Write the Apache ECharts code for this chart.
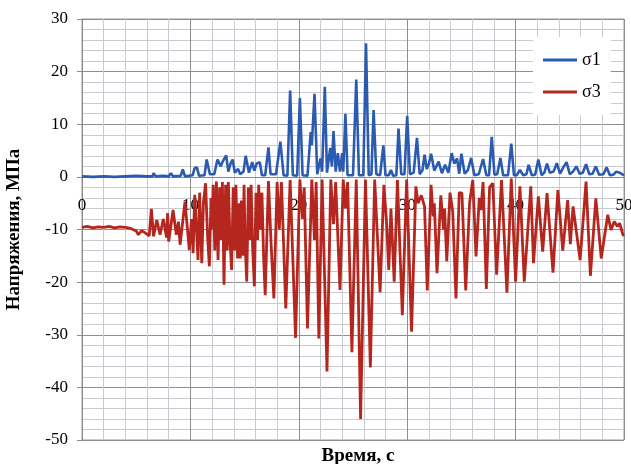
<!DOCTYPE html>
<html>
<head>
<meta charset="utf-8">
<script src="https://cdn.jsdelivr.net/npm/echarts@6/dist/echarts.min.js"></script>
<style>
  html, body { margin: 0; padding: 0; background: #fff; }
  #main { width: 631px; height: 464px; }
</style>
</head>
<body>
<div id="main"></div>
<script>
// время, с и значение, МПа
var sigma1 = [
  [0,0.1],[1,0.0],[2,0.1],[3,0.0],[4,0.1],[5,0.2],[6,0.1],[6.5,0.1],[6.6,0.7],[6.8,0.1],
  [7.5,0.2],[8.0,0.1],[8.2,0.7],[8.4,0.1],[9.1,0.2],[9.3,1.4],[9.5,0.1],[10.2,0.3],[10.4,1.7],
  [10.6,1.8],[10.8,0.2],[11.3,0.3],[11.5,3.3],[11.8,0.5],[12.2,0.5],[12.5,3.3],[12.8,2.0],
  [13.0,3.0],[13.3,4.1],[13.5,1.0],[13.7,2.5],[13.9,3.3],[14.1,0.8],[14.4,1.5],[14.6,0.5],
  [14.9,1.0],[15.1,4.0],[15.4,0.8],[15.7,2.8],[15.9,1.2],[16.1,2.5],[16.4,2.8],[16.6,0.3],
  [16.9,0.3],[17.2,5.6],[17.4,0.5],[17.9,0.5],[18.3,6.7],[18.6,0.3],[18.95,0.2],[19.2,16.4],
  [19.45,0.3],[19.85,0.2],[20.1,15.0],[20.35,0.3],[20.8,0.2],[21.1,8.5],[21.2,6.0],[21.45,15.8],
  [21.7,0.5],[22.0,3.5],[22.15,1.0],[22.4,17.1],[22.6,0.8],[22.9,5.5],[23.05,2.0],[23.2,8.7],
  [23.4,1.0],[23.6,4.5],[23.8,1.0],[24.0,4.5],[24.1,1.0],[24.3,12.0],[24.5,0.3],[25.0,0.3],
  [25.3,18.5],[25.55,0.3],[25.95,0.3],[26.2,25.4],[26.45,0.3],[26.7,0.5],[26.9,12.7],[27.15,0.5],
  [27.5,0.3],[27.8,6.0],[28.0,0.3],[28.3,0.3],[28.5,1.3],[28.7,0.2],[29.0,0.3],[29.2,9.2],
  [29.45,0.5],[29.75,0.5],[30.0,11.6],[30.25,0.5],[30.6,0.8],[30.9,7.4],[31.15,0.5],[31.4,1.2],
  [31.6,4.2],[31.8,1.5],[32.0,2.5],[32.2,4.4],[32.5,1.2],[32.9,2.9],[33.2,0.7],[33.5,2.3],
  [33.8,0.8],[34.1,4.5],[34.35,2.5],[34.6,3.5],[34.8,0.6],[35.0,4.4],[35.3,0.6],[35.6,1.3],
  [35.9,3.6],[36.2,0.3],[36.6,0.5],[37.0,3.4],[37.3,0.3],[37.55,0.3],[37.8,7.6],[38.05,0.4],
  [38.3,0.5],[38.6,3.6],[38.85,0.3],[39.3,0.3],[39.6,6.3],[39.85,0.3],[40.1,0.3],[40.4,1.3],
  [40.7,0.3],[41.0,0.5],[41.2,2.3],[41.5,0.3],[41.8,0.4],[42.1,3.3],[42.4,0.3],[42.65,0.8],
  [42.9,2.5],[43.15,0.8],[43.5,1.0],[43.8,2.6],[44.1,0.6],[44.4,1.8],[44.7,2.8],[45.0,0.5],
  [45.3,1.0],[45.6,2.0],[45.9,0.6],[46.2,0.8],[46.5,2.4],[46.8,0.5],[47.1,0.6],[47.4,2.0],
  [47.7,0.4],[48.1,0.5],[48.4,1.8],[48.7,0.3],[49.0,0.4],[49.3,1.0],[49.6,0.8],[50.0,0.3]
];

var sigma3 = [
  [0,-9.6],[0.5,-9.4],[1,-9.7],[1.5,-9.5],[2,-9.6],[2.5,-9.4],[3,-9.7],[3.5,-9.5],[4,-9.6],
  [4.5,-9.8],[5.0,-10.3],[5.2,-11.0],[5.5,-10.2],[5.8,-10.6],[6.2,-11.2],[6.4,-6.1],[6.6,-11.3],
  [6.9,-8.2],[7.2,-11.0],[7.5,-8.0],[7.8,-11.5],[7.9,-6.9],[8.0,-12.3],[8.4,-6.3],[8.7,-11.0],
  [8.9,-8.5],[9.05,-12.9],[9.5,-4.7],[9.9,-13.9],[10.1,-8.0],[10.25,-14.5],[10.4,-3.4],
  [10.7,-15.8],[10.85,-3.0],[11.05,-16.4],[11.2,-5.0],[11.4,-1.2],[11.6,-12.0],[11.75,-17.0],
  [11.9,-4.0],[12.0,-10.0],[12.1,-1.5],[12.25,-14.0],[12.4,-0.9],[12.55,-15.8],[12.7,-2.0],
  [12.85,-12.0],[12.95,-1.0],[13.1,-20.5],[13.25,-1.5],[13.4,-14.0],[13.5,-1.0],[13.65,-12.0],
  [13.8,-17.7],[13.95,-2.0],[14.1,-14.0],[14.2,-1.5],[14.35,-15.5],[14.5,-5.0],[14.6,-15.5],
  [14.7,-4.5],[14.85,-15.0],[14.95,-1.5],[15.05,-13.0],[15.2,-19.9],[15.35,-2.0],[15.5,-12.0],
  [15.6,-1.5],[15.75,-14.0],[15.9,-20.8],[16.05,-3.0],[16.2,-12.0],[16.3,-1.5],[16.45,-10.0],
  [16.6,-3.0],[16.75,-15.0],[16.9,-22.5],[17.2,-0.8],[17.45,-13.0],[17.7,-23.1],[18.0,-1.0],
  [18.2,-10.0],[18.4,-1.0],[18.8,-25.0],[19.2,-0.6],[19.7,-30.6],[20.1,-0.5],[20.35,-8.0],
  [20.5,-2.0],[20.8,-28.8],[21.2,-0.5],[21.45,-12.0],[21.6,-1.0],[21.85,-30.7],[22.15,-0.5],
  [22.6,-37.0],[22.95,-0.5],[23.2,-9.0],[23.4,-1.0],[23.8,-21.5],[24.1,-0.5],[24.3,-6.0],
  [24.5,-1.0],[24.9,-33.3],[25.3,-0.5],[25.7,-46.0],[26.15,-0.5],[26.6,-36.2],[27.0,-0.5],
  [27.5,-21.9],[27.85,-1.5],[28.1,-8.8],[28.3,-17.7],[28.5,-6.0],[28.8,-19.9],[29.1,-0.6],
  [29.55,-26.3],[29.95,-0.5],[30.4,-29.4],[30.8,-1.8],[31.0,-5.0],[31.3,-3.5],[31.6,-5.6],
  [31.85,-21.6],[32.2,-1.5],[32.4,-7.5],[32.5,-5.0],[32.75,-18.3],[33.1,-3.5],[33.35,-10.0],
  [33.45,-6.0],[33.65,-16.0],[33.95,-3.0],[34.2,-6.6],[34.5,-23.1],[34.8,-3.0],[35.05,-3.1],
  [35.4,-21.6],[35.75,-5.0],[36.05,-0.6],[36.35,-15.1],[36.65,-4.0],[36.8,-6.3],[37.0,-1.0],
  [37.3,-21.3],[37.6,-2.0],[37.9,-1.2],[38.25,-18.6],[38.7,-0.6],[39.2,-22.0],[39.6,-0.3],
  [40.0,-19.9],[40.4,-1.8],[40.8,-19.9],[41.4,-1.8],[41.65,-16.4],[42.1,-3.7],[42.5,-14.2],
  [42.9,-3.1],[43.45,-18.2],[43.9,-2.5],[44.35,-14.0],[44.8,-4.4],[45.05,-12.8],[45.3,-5.6],
  [45.95,-15.8],[46.5,-0.9],[46.9,-18.8],[47.4,-4.1],[47.9,-15.5],[48.5,-7.2],[48.8,-10.1],
  [49.1,-8.5],[49.4,-9.4],[49.6,-8.8],[49.9,-11.0],[50.0,-11.2]
];

var seriesNames = ['σ1', 'σ3'];
var seriesColors = ['#2a5bb0', '#b5261e'];
var xName = 'Время, с';
var yName = 'Напряжения, МПа';
var yMin = -50, yMax = 30;

var serif = '"Liberation Serif", "Times New Roman", serif';

// область построения
var gridTop = 19, gridBottom = 24;
var gridHeight = 464 - gridTop - gridBottom;
// ось X проходит через ноль оси Y
var xAxisShift = -gridHeight * (0 - yMin) / (yMax - yMin);

var chart = echarts.init(document.getElementById('main'));

var option = {
  animation: false,
  backgroundColor: '#fff',
  textStyle: { fontFamily: serif },
  grid: {
    left: 82, right: 7, top: gridTop, bottom: gridBottom,
    outerBoundsMode: 'none',
    containLabel: false,
    show: true, borderColor: '#9a9a9a', borderWidth: 1
  },
  title: {
    text: xName,
    left: 353, top: 442,
    textAlign: 'center',
    textStyle: { fontFamily: serif, fontSize: 19, fontWeight: 'bold', color: '#000' }
  },
  legend: {
    orient: 'vertical',
    left: 533, top: 37,
    padding: [14, 10, 14, 10],
    icon: 'rect',
    itemWidth: 34, itemHeight: 3, itemGap: 14,
    backgroundColor: '#fff',
    textStyle: { fontFamily: serif, fontSize: 18, color: '#000' },
    data: seriesNames
  },
  xAxis: {
    type: 'value',
    min: 0, max: 50, interval: 10,
    offset: xAxisShift,
    axisLine: { onZero: false, lineStyle: { color: '#8a8a8a' } },
    axisTick: { show: false },
    axisLabel: { color: '#000', fontSize: 17, fontFamily: serif, margin: 20 },
    splitLine: { lineStyle: { color: '#8f8f8f' } },
    minorTick: { show: false, splitNumber: 5 },
    minorSplitLine: { show: true, lineStyle: { color: '#c9c9d1' } }
  },
  yAxis: {
    type: 'value',
    min: yMin, max: yMax, interval: 10,
    name: yName,
    nameLocation: 'middle',
    nameGap: 58,
    nameTextStyle: { fontFamily: serif, fontSize: 19, fontWeight: 'bold', color: '#000' },
    axisLine: { show: true, lineStyle: { color: '#8a8a8a' } },
    axisTick: { show: true, length: 5, lineStyle: { color: '#8a8a8a' } },
    axisLabel: { color: '#000', fontSize: 17, fontFamily: serif, margin: 14 },
    splitLine: { lineStyle: { color: '#8f8f8f' } },
    minorTick: { show: false, splitNumber: 5 },
    minorSplitLine: { show: true, lineStyle: { color: '#c9c9d1' } }
  },
  series: [
    {
      name: seriesNames[0],
      type: 'line',
      symbol: 'none',
      data: sigma1,
      lineStyle: { color: seriesColors[0], width: 2.6 },
      itemStyle: { color: seriesColors[0] }
    },
    {
      name: seriesNames[1],
      type: 'line',
      symbol: 'none',
      data: sigma3,
      lineStyle: { color: seriesColors[1], width: 2.8 },
      itemStyle: { color: seriesColors[1] }
    }
  ]
};

chart.setOption(option);
</script>
</body>
</html>
